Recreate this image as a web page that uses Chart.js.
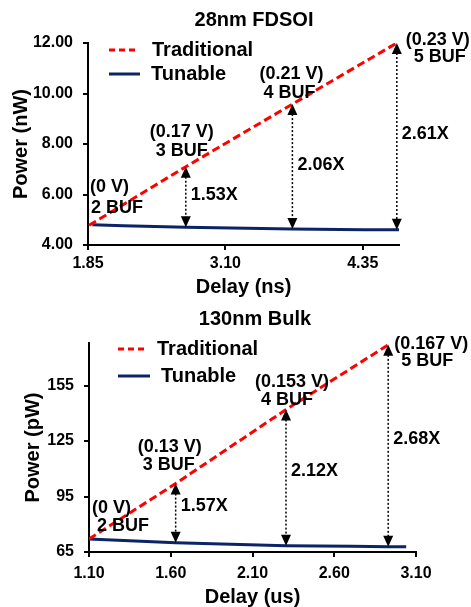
<!DOCTYPE html>
<html>
<head>
<meta charset="utf-8">
<script src="https://cdn.jsdelivr.net/npm/chart.js@4.4.0/dist/chart.umd.min.js"></script>
<style>
  html, body { margin: 0; padding: 0; background: #fff; overflow: hidden; }
  .box { position: absolute; left: 0; width: 471px; }
  #top { top: 0; height: 300px; }
  #bottom { top: 300px; height: 309px; }
</style>
</head>
<body>
<div class="box" id="top"><canvas id="c1"></canvas></div>
<div class="box" id="bottom"><canvas id="c2"></canvas></div>
<script>
// 28nm FDSOI
var fdTradX = [1.86, 2.74, 3.71, 4.66];
var fdTradY = [4.78, 7.10, 9.58, 12.00];
var fdTunX = [1.89, 2.74, 3.71, 4.68];
var fdTunY = [4.80, 4.70, 4.63, 4.60];
var fdVolt = ['(0 V)', '(0.17 V)', '(0.21 V)', '(0.23 V)'];
var fdBuf = ['2 BUF', '3 BUF', '4 BUF', '5 BUF'];
var fdRatio = ['', '1.53X', '2.06X', '2.61X'];
var fdXTicks = [1.85, 3.10, 4.35];
var fdYTicks = [4, 6, 8, 10, 12];

// 130nm Bulk
var bkTradX = [1.10, 1.63, 2.305, 2.93];
var bkTradY = [72, 102, 142, 177];
var bkTunX = [1.10, 1.63, 2.305, 2.93, 3.04];
var bkTunY = [72, 70, 68.4, 67.9, 67.8];
var bkVolt = ['(0 V)', '(0.13 V)', '(0.153 V)', '(0.167 V)'];
var bkBuf = ['2 BUF', '3 BUF', '4 BUF', '5 BUF'];
var bkRatio = ['', '1.57X', '2.12X', '2.68X'];
var bkXTicks = [1.10, 1.60, 2.10, 2.60, 3.10];
var bkYTicks = [65, 95, 125, 155];

var FONT = '"Liberation Sans", Arial, sans-serif';
Chart.defaults.font.family = FONT;
Chart.defaults.font.weight = 'bold';
Chart.defaults.color = '#000';

function pts(xs, ys) {
    return xs.map((x, i) => ({ x: x, y: ys[i] }));
}

// titles, legend inside plot, labels and double arrows
var notes = {
    id: 'notes',
    afterDatasetsDraw: function (chart, args, o) {
        var ctx = chart.ctx;
        var xs = chart.scales.x, ys = chart.scales.y;
        ctx.save();
        ctx.fillStyle = '#000';
        ctx.textBaseline = 'middle';

        ctx.font = 'bold 20px ' + FONT;
        ctx.textAlign = 'center';
        ctx.fillText(o.title, o.titleX, o.titleY);

        // legend
        chart.data.datasets.forEach(function (ds, i) {
            var lg = o.legend[i];
            ctx.strokeStyle = ds.borderColor;
            ctx.lineWidth = 3;
            ctx.setLineDash(i === 0 ? [6, 4] : []);
            ctx.beginPath();
            ctx.moveTo(lg[0], lg[2]);
            ctx.lineTo(lg[1], lg[2]);
            ctx.stroke();
            ctx.setLineDash([]);
            ctx.textAlign = 'left';
            ctx.fillText(ds.label, lg[3], lg[2]);
        });

        // arrows
        for (var i = 1; i < o.tradX.length; i++) {
            var px = xs.getPixelForValue(o.tradX[i]);
            var top = ys.getPixelForValue(o.tradY[i]);
            var bot = ys.getPixelForValue(o.tunY[i]);
            ctx.strokeStyle = '#000';
            ctx.lineWidth = 1.5;
            ctx.setLineDash([2, 2]);
            ctx.beginPath();
            ctx.moveTo(px, top + 10);
            ctx.lineTo(px, bot - 10);
            ctx.stroke();
            ctx.setLineDash([]);
            ctx.beginPath();
            ctx.moveTo(px, top);
            ctx.lineTo(px - 5, top + 11);
            ctx.lineTo(px + 5, top + 11);
            ctx.closePath();
            ctx.fill();
            ctx.beginPath();
            ctx.moveTo(px, bot);
            ctx.lineTo(px - 5, bot - 11);
            ctx.lineTo(px + 5, bot - 11);
            ctx.closePath();
            ctx.fill();

            ctx.font = 'bold 18px ' + FONT;
            ctx.textAlign = 'left';
            ctx.fillText(o.ratio[i], px + 5, (top + bot) / 2 + o.ratioDy);
        }

        // voltage / buffer labels
        ctx.font = 'bold 18px ' + FONT;
        for (var j = 0; j < o.tradX.length; j++) {
            var x0 = xs.getPixelForValue(o.tradX[j]);
            var y0 = ys.getPixelForValue(o.tradY[j]);
            var p = o.pos[j];
            ctx.textAlign = p[4];
            ctx.fillText(o.volt[j], x0 + p[0], y0 + p[1]);
            ctx.fillText(o.buf[j], x0 + p[2], y0 + p[3]);
        }
        ctx.restore();
    }
};

function makeChart(id, c) {
    new Chart(document.getElementById(id), {
        type: 'line',
        data: {
            datasets: [{
                label: 'Traditional',
                data: pts(c.tradX, c.tradY),
                borderColor: '#ff0000',
                borderWidth: 3,
                borderDash: [8, 4],
                pointRadius: 0,
                tension: 0
            }, {
                label: 'Tunable',
                data: pts(c.tunX, c.tunY),
                borderColor: '#0b2466',
                borderWidth: 3,
                pointRadius: 0,
                cubicInterpolationMode: 'monotone'
            }]
        },
        options: {
            responsive: true,
            maintainAspectRatio: false,
            animation: false,
            layout: { padding: { left: 0, right: c.padRight, top: c.padTop, bottom: 0 } },
            plugins: {
                legend: { display: false },
                tooltip: { enabled: false },
                notes: c.notes
            },
            scales: {
                x: {
                    type: 'linear',
                    min: c.xMin, max: c.xMax,
                    afterBuildTicks: s => { s.ticks = c.xTicks.map(v => ({ value: v })); },
                    afterFit: s => { s.height = c.xHeight; },
                    ticks: {
                        font: { size: 16, weight: 'bold' },
                        padding: c.xTickPad,
                        maxRotation: 0,
                        callback: v => v.toFixed(2)
                    },
                    grid: { drawOnChartArea: false, tickLength: 5, color: '#000', lineWidth: 2 },
                    border: { color: '#000', width: 2 },
                    title: {
                        display: true, text: c.xTitle,
                        font: { size: 20, weight: 'bold' },
                        padding: { top: 0, bottom: c.xTitlePad }
                    }
                },
                y: {
                    min: c.yMin, max: c.yMax,
                    afterBuildTicks: s => { s.ticks = c.yTicks.map(v => ({ value: v })); },
                    afterFit: s => { s.width = c.yWidth; },
                    ticks: {
                        font: { size: 16, weight: 'bold' },
                        padding: 10,
                        callback: c.yFmt
                    },
                    grid: { drawOnChartArea: false, tickLength: 5, color: '#000', lineWidth: 2 },
                    border: { color: '#000', width: 2 },
                    title: {
                        display: true, text: c.yTitle,
                        font: { size: 20, weight: 'bold' },
                        padding: { top: c.yTitlePad, bottom: 0 }
                    }
                }
            }
        },
        plugins: [notes]
    });
}

makeChart('c1', {
    tradX: fdTradX, tradY: fdTradY, tunX: fdTunX, tunY: fdTunY,
    xTicks: fdXTicks, yTicks: fdYTicks,
    xMin: 1.85, xMax: 4.68, yMin: 4, yMax: 12,
    yFmt: v => v.toFixed(2),
    xTitle: 'Delay (ns)', yTitle: 'Power (nW)',
    padRight: 72, padTop: 43, xHeight: 55, yWidth: 88,
    xTickPad: 4, xTitlePad: 1, yTitlePad: 9.5,
    notes: {
        title: '28nm FDSOI', titleX: 254, titleY: 20,
        legend: [[109, 138, 50, 152], [109, 140, 74, 151]],
        tradX: fdTradX, tradY: fdTradY, tunY: fdTunY,
        volt: fdVolt, buf: fdBuf, ratio: fdRatio, ratioDy: -2,
        pos: [[1, -38, 2, -17, 'left'], [-4, -35, -4, -16, 'center'],
              [-1, -30, -3, -11, 'center'], [41, -3, 43, 14, 'center']]
    }
});

makeChart('c2', {
    tradX: bkTradX, tradY: bkTradY, tunX: bkTunX, tunY: bkTunY,
    xTicks: bkXTicks, yTicks: bkYTicks,
    xMin: 1.10, xMax: 3.10, yMin: 65, yMax: 178,
    yFmt: v => String(Math.round(v)),
    xTitle: 'Delay (us)', yTitle: 'Power (pW)',
    padRight: 55, padTop: 43, xHeight: 57, yWidth: 89,
    xTickPad: 7, xTitlePad: 0, yTitlePad: 21,
    notes: {
        title: '130nm Bulk', titleX: 255, titleY: 19,
        legend: [[118, 147, 49, 157], [118, 150, 76, 161]],
        tradX: bkTradX, tradY: bkTradY, tunY: bkTunY,
        volt: bkVolt, buf: bkBuf, ratio: bkRatio, ratioDy: -7,
        pos: [[3, -31, 8, -13, 'left'], [-6, -37, -7, -19, 'center'],
              [6, -28, 1, -10, 'center'], [43, -1, 39, 16, 'center']]
    }
});
</script>
</body>
</html>
